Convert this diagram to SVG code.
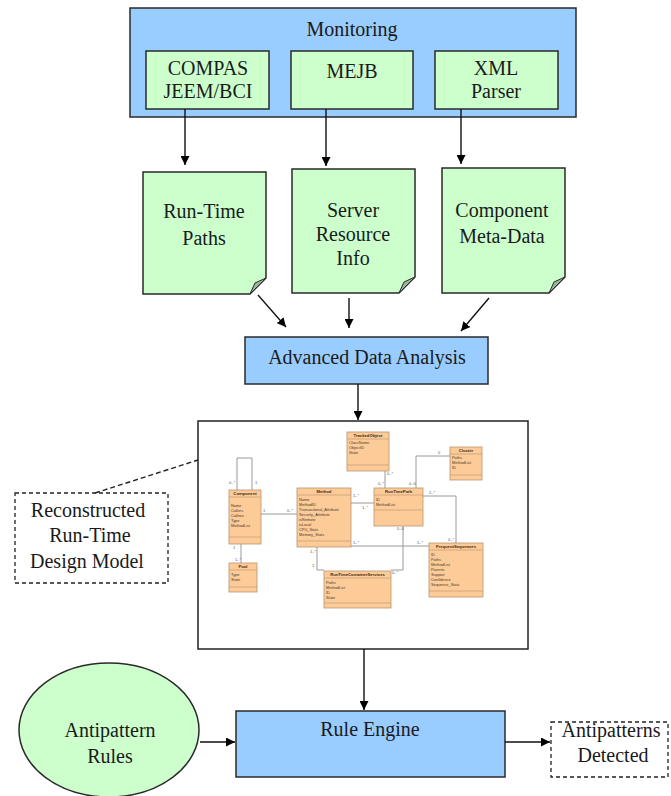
<svg xmlns="http://www.w3.org/2000/svg" width="671" height="796" viewBox="0 0 671 796">
  <style>
    .t { font-family: "Liberation Serif", "Times New Roman", serif; font-size: 20px; fill: #1a1a1a; text-anchor: middle; }
    .blue { fill: #99CCFF; stroke: #2a2a2a; stroke-width: 1.5; }
    .green { fill: #CCFFCC; stroke: #2a2a2a; stroke-width: 1.5; }
    .fold { fill: #9DB89D; stroke: #2a2a2a; stroke-width: 1; }
    .dash { fill: #ffffff; stroke: #222; stroke-width: 1.3; stroke-dasharray: 4 3; }
    .conn { fill: none; stroke: #111; stroke-width: 1.4; }
    .uml { fill: #FCCB98; stroke: #B89470; stroke-width: 0.8; }
    .umlsep { stroke: #B89470; stroke-width: 0.6; }
    .umlline { fill: none; stroke: #9a9a9a; stroke-width: 1; }
    .cn { font-family: "Liberation Sans", Arial, sans-serif; font-size: 4.2px; font-weight: bold; fill: #3a2a1a; text-anchor: middle; }
    .ca { font-family: "Liberation Sans", Arial, sans-serif; font-size: 3.9px; fill: #4a3a2a; }
    .m { font-family: "Liberation Sans", Arial, sans-serif; font-size: 4px; fill: #555; }
  </style>
  <defs>
    <marker id="arr" viewBox="0 0 10 10" refX="10" refY="5" markerWidth="9" markerHeight="9" markerUnits="userSpaceOnUse" orient="auto">
      <path d="M0,0 L10,5 L0,10 z" fill="#000"/>
    </marker>
  </defs>

  <rect width="671" height="796" fill="#ffffff"/>

  <!-- Monitoring container with its three probes -->
  <g id="monitoring">
    <rect class="blue" x="130" y="8" width="446" height="109"/>
    <text class="t" x="352" y="36">Monitoring</text>
  </g>
  <g id="compas">
    <rect class="green" x="146" y="51" width="123" height="58"/>
    <text class="t" x="208" y="75">COMPAS</text>
    <text class="t" x="208" y="98">JEEM/BCI</text>
  </g>
  <g id="mejb">
    <rect class="green" x="291" y="51" width="122" height="58"/>
    <text class="t" x="352" y="78">MEJB</text>
  </g>
  <g id="xml-parser">
    <rect class="green" x="435" y="51" width="123" height="58"/>
    <text class="t" x="496" y="75">XML</text>
    <text class="t" x="496" y="98">Parser</text>
  </g>

  <!-- Collected data documents -->
  <g id="run-time-paths">
    <path class="green" d="M143,172 H266 V278 L250,294 H143 Z"/>
    <path class="fold" d="M266,278 L250,294 L255,283 Z"/>
    <text class="t" x="204" y="218">Run-Time</text>
    <text class="t" x="204" y="245">Paths</text>
  </g>
  <g id="server-resource-info">
    <path class="green" d="M292,169 H415 V277 L399,293 H292 Z"/>
    <path class="fold" d="M415,277 L399,293 L404,282 Z"/>
    <text class="t" x="353" y="217">Server</text>
    <text class="t" x="353" y="241">Resource</text>
    <text class="t" x="353" y="265">Info</text>
  </g>
  <g id="component-meta-data">
    <path class="green" d="M442,168 H565 V277 L549,293 H442 Z"/>
    <path class="fold" d="M565,277 L549,293 L554,282 Z"/>
    <text class="t" x="502" y="217">Component</text>
    <text class="t" x="502" y="243">Meta-Data</text>
  </g>

  <g id="advanced-data-analysis">
    <rect class="blue" x="245" y="337" width="243" height="47"/>
    <text class="t" x="367" y="364">Advanced Data Analysis</text>
  </g>

  <!-- Reconstructed run-time design model (class diagram) -->
  <g id="design-model">
    <rect x="198" y="421" width="330" height="228" fill="#ffffff" stroke="#222" stroke-width="1.5"/>

    <g id="uml-links">
      <!-- Component self association -->
      <path class="umlline" d="M237,490 V458 H252 V490"/>
      <!-- Component - Pool -->
      <path class="umlline" d="M241,544 V563"/>
      <!-- Component - Method -->
      <path class="umlline" d="M261,514 H297"/>
      <!-- Method - RunTimePath -->
      <path class="umlline" d="M351,503 H374"/>
      <!-- TrackedObject - RunTimePath -->
      <path class="umlline" d="M385,471 V488"/>
      <!-- Cluster - RunTimePath -->
      <path class="umlline" d="M450,456 H416 V488"/>
      <!-- RunTimePath - FrequentSequences -->
      <path class="umlline" d="M423,496 H456 V543"/>
      <!-- Method - FrequentSequences -->
      <path class="umlline" d="M351,546 H429"/>
      <!-- Method - RunTimeContainerServices -->
      <path class="umlline" d="M317,547 V570 H324"/>
      <!-- RunTimePath - RunTimeContainerServices -->
      <path class="umlline" d="M403,526 V570 H391"/>
    </g>

    <g id="uml-multiplicities">
      <text class="m" x="229" y="484">0..*</text>
      <text class="m" x="255" y="484">1</text>
      <text class="m" x="233" y="549">1</text>
      <text class="m" x="235" y="561">1..*</text>
      <text class="m" x="263" y="512">1</text>
      <text class="m" x="287" y="512">0..*</text>
      <text class="m" x="353" y="497">1..*</text>
      <text class="m" x="362" y="509">1..*</text>
      <text class="m" x="387" y="475">0..*</text>
      <text class="m" x="378" y="485">0..*</text>
      <text class="m" x="438" y="454">0</text>
      <text class="m" x="409" y="485">0..0</text>
      <text class="m" x="429" y="494">1..*</text>
      <text class="m" x="448" y="541">0..*</text>
      <text class="m" x="353" y="544">1..*</text>
      <text class="m" x="417" y="544">1..*</text>
      <text class="m" x="397" y="530">0..0</text>
      <text class="m" x="392" y="574">0..*</text>
      <text class="m" x="310" y="553">1..*</text>
      <text class="m" x="312" y="567">1</text>
    </g>

    <g id="class-trackedobject">
      <rect class="uml" x="347" y="432" width="42" height="39"/>
      <line class="umlsep" x1="347" y1="439" x2="389" y2="439"/>
      <line class="umlsep" x1="347" y1="465" x2="389" y2="465"/>
      <text class="cn" x="368" y="437">TrackedObject</text>
      <text class="ca" x="349" y="444">ClassName</text>
      <text class="ca" x="349" y="449">ObjectID</text>
      <text class="ca" x="349" y="454">State</text>
    </g>
    <g id="class-cluster">
      <rect class="uml" x="450" y="447" width="32" height="33"/>
      <line class="umlsep" x1="450" y1="454" x2="482" y2="454"/>
      <line class="umlsep" x1="450" y1="475" x2="482" y2="475"/>
      <text class="cn" x="466" y="452">Cluster</text>
      <text class="ca" x="452" y="459">Paths</text>
      <text class="ca" x="452" y="464">MethodList</text>
      <text class="ca" x="452" y="469">ID</text>
    </g>
    <g id="class-component">
      <rect class="uml" x="229" y="490" width="32" height="54"/>
      <line class="umlsep" x1="229" y1="497" x2="261" y2="497"/>
      <line class="umlsep" x1="229" y1="537" x2="261" y2="537"/>
      <text class="cn" x="245" y="495">Component</text>
      <text class="ca" x="231" y="507">Name</text>
      <text class="ca" x="231" y="512">Callers</text>
      <text class="ca" x="231" y="517">Callees</text>
      <text class="ca" x="231" y="522">Type</text>
      <text class="ca" x="231" y="527">MethodList</text>
    </g>
    <g id="class-method">
      <rect class="uml" x="297" y="488" width="54" height="59"/>
      <line class="umlsep" x1="297" y1="495" x2="351" y2="495"/>
      <line class="umlsep" x1="297" y1="541" x2="351" y2="541"/>
      <text class="cn" x="324" y="493">Method</text>
      <text class="ca" x="299" y="500.5">Name</text>
      <text class="ca" x="299" y="505.5">MethodID</text>
      <text class="ca" x="299" y="510.5">Transactional_Attribute</text>
      <text class="ca" x="299" y="515.5">Security_Attribute</text>
      <text class="ca" x="299" y="520.5">isRemote</text>
      <text class="ca" x="299" y="525.5">isLocal</text>
      <text class="ca" x="299" y="530.5">CPU_Stats</text>
      <text class="ca" x="299" y="535.5">Memory_Stats</text>
    </g>
    <g id="class-runtimepath">
      <rect class="uml" x="374" y="488" width="49" height="38"/>
      <line class="umlsep" x1="374" y1="495" x2="423" y2="495"/>
      <line class="umlsep" x1="374" y1="510" x2="423" y2="510"/>
      <text class="cn" x="398.5" y="493">RunTimePath</text>
      <text class="ca" x="376" y="500.5">ID</text>
      <text class="ca" x="376" y="505.5">MethodList</text>
    </g>
    <g id="class-frequentsequences">
      <rect class="uml" x="429" y="543" width="54" height="54"/>
      <line class="umlsep" x1="429" y1="550" x2="483" y2="550"/>
      <line class="umlsep" x1="429" y1="591" x2="483" y2="591"/>
      <text class="cn" x="456" y="548">FrequentSequences</text>
      <text class="ca" x="431" y="555.5">ID</text>
      <text class="ca" x="431" y="560.5">Paths</text>
      <text class="ca" x="431" y="565.5">MethodList</text>
      <text class="ca" x="431" y="570.5">Parents</text>
      <text class="ca" x="431" y="575.5">Support</text>
      <text class="ca" x="431" y="580.5">Confidence</text>
      <text class="ca" x="431" y="585.5">Sequence_Stats</text>
    </g>
    <g id="class-pool">
      <rect class="uml" x="229" y="563" width="28" height="29"/>
      <line class="umlsep" x1="229" y1="570" x2="257" y2="570"/>
      <line class="umlsep" x1="229" y1="587" x2="257" y2="587"/>
      <text class="cn" x="243" y="568">Pool</text>
      <text class="ca" x="231" y="575.5">Type</text>
      <text class="ca" x="231" y="580.5">State</text>
    </g>
    <g id="class-runtimecontainerservices">
      <rect class="uml" x="324" y="571" width="67" height="37"/>
      <line class="umlsep" x1="324" y1="578" x2="391" y2="578"/>
      <line class="umlsep" x1="324" y1="603" x2="391" y2="603"/>
      <text class="cn" x="357.5" y="576">RunTimeContainerServices</text>
      <text class="ca" x="326" y="583.5">Paths</text>
      <text class="ca" x="326" y="588.5">MethodList</text>
      <text class="ca" x="326" y="593.5">ID</text>
      <text class="ca" x="326" y="598.5">State</text>
    </g>
  </g>

  <g id="design-model-label">
    <rect class="dash" x="15" y="493" width="153" height="90"/>
    <text class="t" x="88" y="517">Reconstructed</text>
    <text class="t" x="90" y="542">Run-Time</text>
    <text class="t" x="87" y="568">Design Model</text>
  </g>

  <g id="antipattern-rules">
    <ellipse class="green" cx="109" cy="730" rx="90" ry="67"/>
    <text class="t" x="110" y="737">Antipattern</text>
    <text class="t" x="110" y="763">Rules</text>
  </g>

  <g id="rule-engine">
    <rect class="blue" x="236" y="711" width="269" height="66"/>
    <text class="t" x="370" y="736">Rule Engine</text>
  </g>

  <g id="antipatterns-detected">
    <rect class="dash" x="551" y="722" width="117" height="55"/>
    <text class="t" x="611" y="737">Antipatterns</text>
    <text class="t" x="613" y="762">Detected</text>
  </g>

  <!-- Flow connectors -->
  <g id="connectors">
    <path class="conn" d="M185,109 V165" marker-end="url(#arr)"/>
    <path class="conn" d="M326,109 V166" marker-end="url(#arr)"/>
    <path class="conn" d="M461,109 V164" marker-end="url(#arr)"/>
    <path class="conn" d="M258,295 L286,327" marker-end="url(#arr)"/>
    <path class="conn" d="M349,298 V328" marker-end="url(#arr)"/>
    <path class="conn" d="M489,298 L461,331" marker-end="url(#arr)"/>
    <path class="conn" d="M358,384 V420" marker-end="url(#arr)"/>
    <path class="conn" d="M364,649 V710" marker-end="url(#arr)"/>
    <path class="conn" d="M200,742 H235" marker-end="url(#arr)"/>
    <path class="conn" d="M505,742 H550" marker-end="url(#arr)"/>
    <path fill="none" stroke="#222" stroke-width="1.4" stroke-dasharray="5 3" d="M95,493 L198,460"/>
  </g>
</svg>
